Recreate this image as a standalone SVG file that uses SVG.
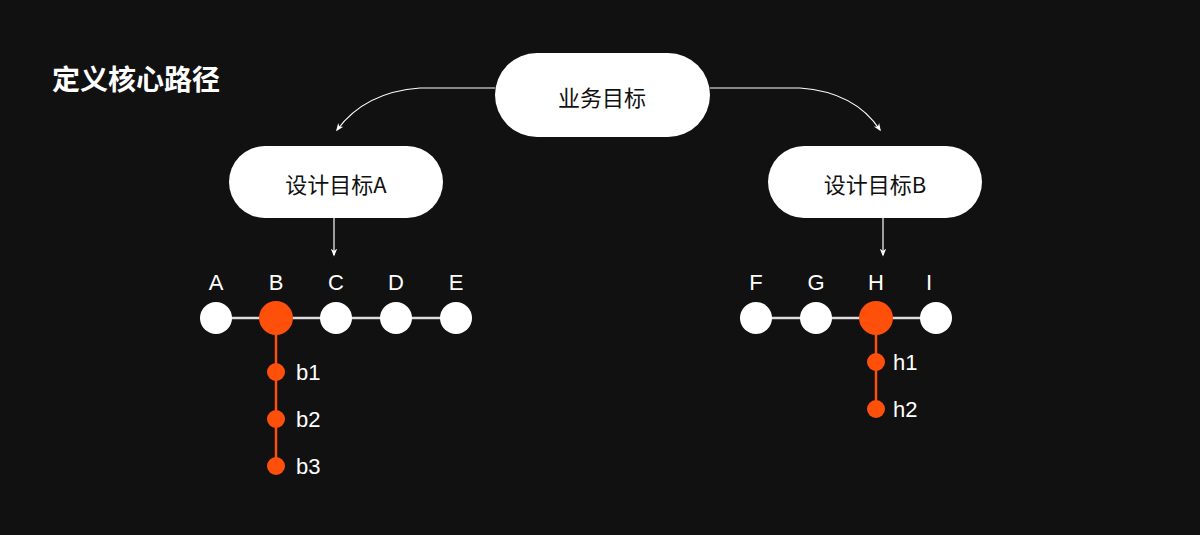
<svg xmlns="http://www.w3.org/2000/svg" width="1200" height="535" viewBox="0 0 1200 535">
<style>
.pill{fill:#fff}
.pt{font-family:"Noto Sans CJK SC","Liberation Sans",sans-serif;font-size:22px;fill:#111;text-anchor:middle;dominant-baseline:central}
.lb{font-family:"Liberation Sans",sans-serif;font-size:22px;fill:#fff}
.w{fill:#fff}
.o{fill:#fe4f0b}
.con{fill:none;stroke:#fff;stroke-width:1.2}
</style>
<defs><marker id="ar" viewBox="0 0 10 10" refX="8" refY="5" markerWidth="8" markerHeight="10" orient="auto" markerUnits="userSpaceOnUse"><path d="M0,1 L10,5 L0,9 L3,5 Z" fill="#fff"/></marker></defs>
<rect width="1200" height="535" fill="#111"/>
<text x="52" y="90" font-family="Noto Sans CJK SC,sans-serif" font-size="28" font-weight="bold" fill="#fff">定义核心路径</text>
<g id="connectors">
<path class="con" d="M495,88 L420,88 Q365,92 337,130" marker-end="url(#ar)"/>
<path class="con" d="M710,88 L800,88 Q855,92 880,130" marker-end="url(#ar)"/>
<path class="con" d="M334,218 L334,255" marker-end="url(#ar)"/>
<path class="con" d="M883,218 L883,255" marker-end="url(#ar)"/>
<path d="M216,318 H456 M756,318 H936" stroke="#ddd" stroke-width="2.5"/>
<path d="M276,318 V466 M876,318 V409" stroke="#fe4f0b" stroke-width="2.5"/>
</g>
<g id="top"><rect class="pill" x="495" y="53" width="215" height="84" rx="42"/><text class="pt" x="602" y="96">业务目标</text></g>
<g id="goalA"><rect class="pill" x="229" y="146" width="214" height="72" rx="36"/><text class="pt" x="336" y="183">设计目标A</text></g>
<g id="goalB"><rect class="pill" x="768" y="146" width="214" height="72" rx="36"/><text class="pt" x="875" y="183">设计目标B</text></g>
<g id="rowA">
<circle class="w" cx="216" cy="318" r="16"/><circle class="o" cx="276" cy="318" r="17"/><circle class="w" cx="336" cy="318" r="16"/><circle class="w" cx="396" cy="318" r="16"/><circle class="w" cx="456" cy="318" r="16"/>
<g class="lb" text-anchor="middle"><text x="216" y="290">A</text><text x="276" y="290">B</text><text x="336" y="290">C</text><text x="396" y="290">D</text><text x="456" y="290">E</text></g>
<circle class="o" cx="276" cy="372" r="9"/><circle class="o" cx="276" cy="419" r="9"/><circle class="o" cx="276" cy="466" r="9"/>
<text class="lb" x="296" y="380">b1</text><text class="lb" x="296" y="427">b2</text><text class="lb" x="296" y="474">b3</text>
</g>
<g id="rowB">
<circle class="w" cx="756" cy="318" r="16"/><circle class="w" cx="816" cy="318" r="16"/><circle class="o" cx="876" cy="318" r="17"/><circle class="w" cx="936" cy="318" r="16"/>
<g class="lb" text-anchor="middle"><text x="756" y="290">F</text><text x="816" y="290">G</text><text x="876" y="290">H</text><text x="929" y="290">I</text></g>
<circle class="o" cx="876" cy="362" r="9"/><circle class="o" cx="876" cy="409" r="9"/>
<text class="lb" x="893" y="370">h1</text><text class="lb" x="893" y="417">h2</text>
</g>
</svg>
